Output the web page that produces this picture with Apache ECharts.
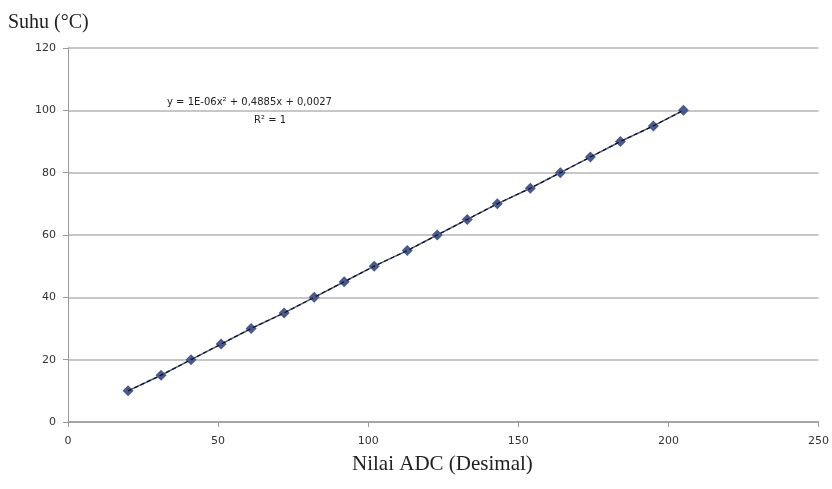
<!DOCTYPE html>
<html>
<head>
<meta charset="utf-8">
<script src="https://cdn.jsdelivr.net/npm/echarts@6/dist/echarts.min.js"></script>
<style>
    html, body { margin: 0; padding: 0; background: #fff; }
    #chart { width: 832px; height: 489px; }
</style>
</head>
<body>
<div id="chart"></div>
<script>
    // 数据：ADC 值与温度
    let adcValues = [20, 31, 41, 51, 61, 72, 82, 92, 102, 113, 123, 133, 143, 154, 164, 174, 184, 195, 205];
    let suhuValues = [10, 15, 20, 25, 30, 35, 40, 45, 50, 55, 60, 65, 70, 75, 80, 85, 90, 95, 100];
    let xTicks = [0, 50, 100, 150, 200, 250];
    let yTicks = [0, 20, 40, 60, 80, 100, 120];
    let trendText = 'y = 1E-06x\u00b2 + 0,4885x + 0,0027';
    let r2Text = 'R\u00b2 = 1';

    let points = [];
    for (let i = 0; i < adcValues.length; i++) {
        points.push([adcValues[i], suhuValues[i]]);
    }

    let chart = echarts.init(document.getElementById('chart'));
    let option = {
        backgroundColor: '#fff',
        animation: false,
        grid: { left: 68, right: 12, top: 48, bottom: 67 },
        xAxis: {
            type: 'value',
            min: xTicks[0],
            max: xTicks[xTicks.length - 1],
            interval: 50,
            axisLine: { show: true, lineStyle: { color: '#9a9a9a', width: 1.5 } },
            axisTick: { show: true, length: 5, inside: false, lineStyle: { color: '#9a9a9a' } },
            axisLabel: { color: '#333', fontSize: 11, fontFamily: 'DejaVu Sans', margin: 14 },
            splitLine: { show: false }
        },
        yAxis: {
            type: 'value',
            min: yTicks[0],
            max: yTicks[yTicks.length - 1],
            interval: 20,
            axisLine: { show: true, lineStyle: { color: '#9a9a9a', width: 1 } },
            axisTick: { show: true, length: 5, lineStyle: { color: '#9a9a9a' } },
            axisLabel: { color: '#333', fontSize: 11, fontFamily: 'DejaVu Sans', margin: 12 },
            splitLine: { show: true, lineStyle: { color: '#b4b4b4', width: 1.5 } }
        },
        series: [
            {
                // 数据线
                name: 'data',
                type: 'line',
                data: points,
                symbol: 'diamond',
                symbolSize: 11,
                itemStyle: { color: '#4a5a8c' },
                lineStyle: { color: '#4a5a8c', width: 1.5 },
                z: 2
            },
            {
                // 趋势线（虚线）
                name: 'trend',
                type: 'line',
                data: points,
                symbol: 'none',
                lineStyle: { color: '#111', width: 1.2, type: [4, 3] },
                z: 3
            }
        ],
        graphic: [
            {
                type: 'text', left: 8, top: 13,
                style: { text: 'Suhu (\u00b0C)', fill: '#222', font: '20px "Liberation Serif"' }
            },
            {
                type: 'text', left: 167, top: 97,
                style: { text: trendText, fill: '#222', font: '10px "DejaVu Sans"' }
            },
            {
                type: 'text', left: 254, top: 115,
                style: { text: r2Text, fill: '#222', font: '10px "DejaVu Sans"' }
            },
            {
                type: 'text', left: 352, top: 454,
                style: { text: 'Nilai ADC (Desimal)', fill: '#222', font: '21px "Liberation Serif"' }
            }
        ]
    };
    chart.setOption(option);
</script>
</body>
</html>
